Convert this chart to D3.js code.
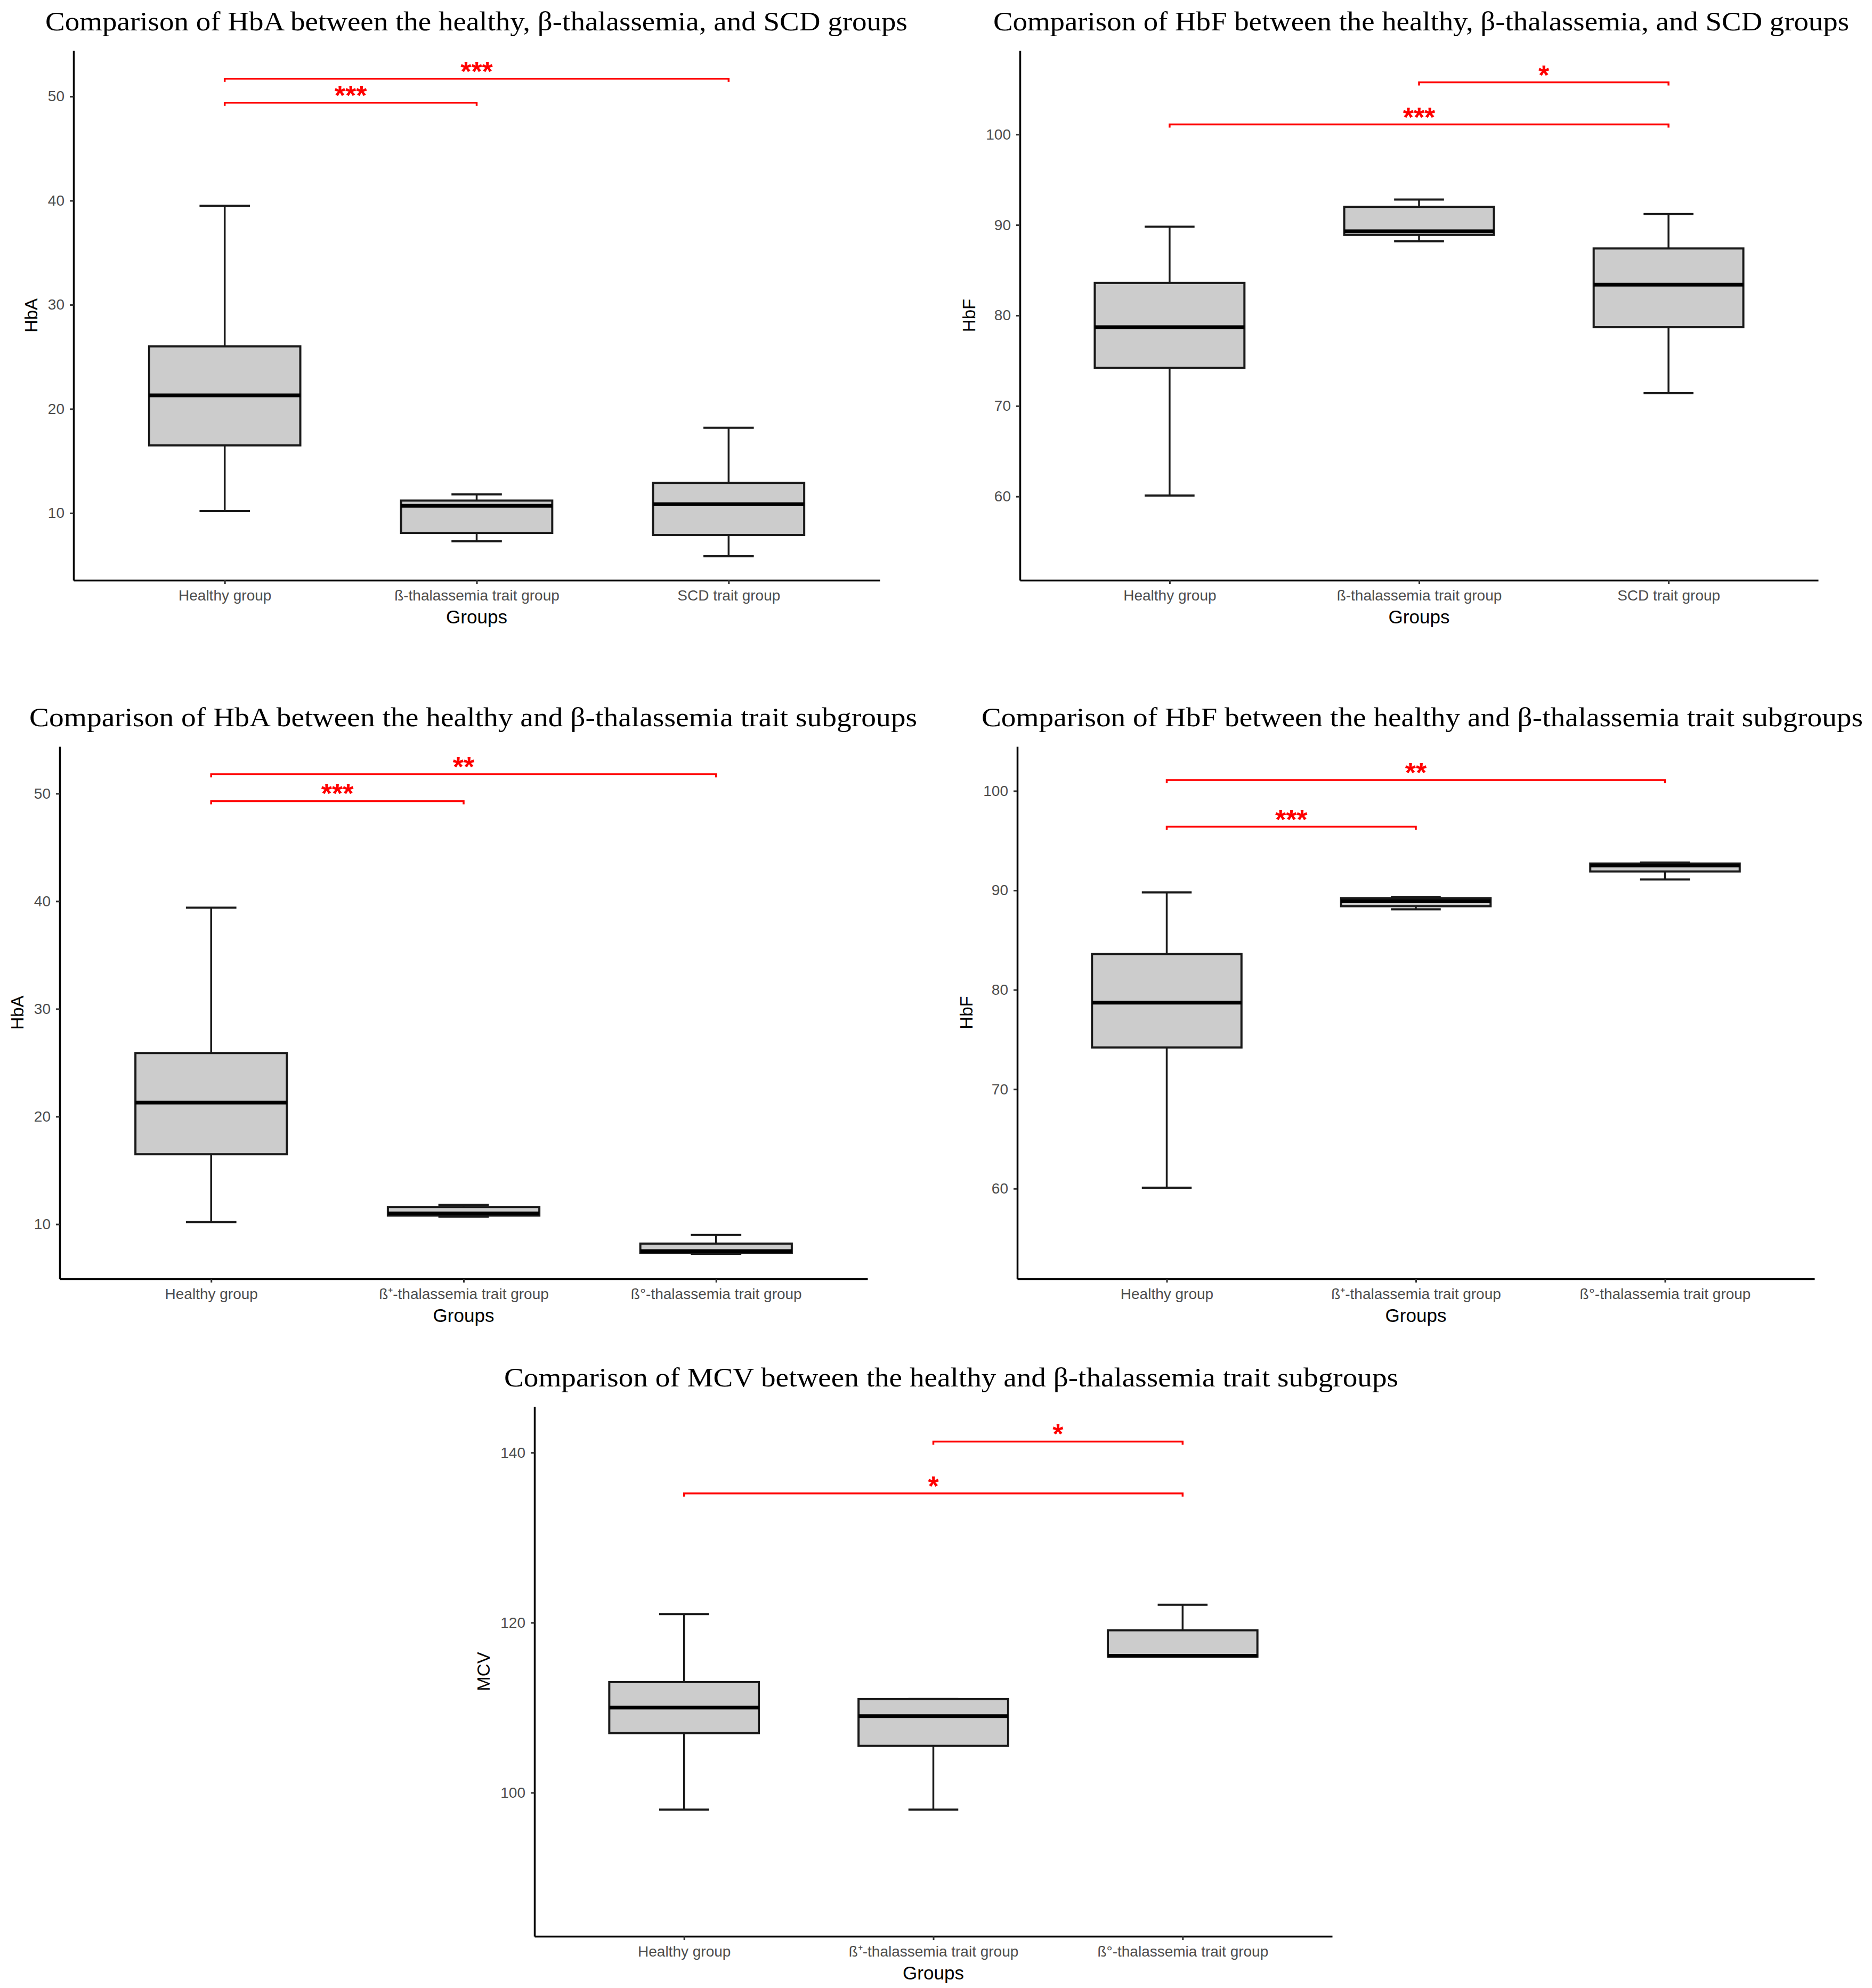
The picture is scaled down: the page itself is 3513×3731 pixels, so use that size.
<!DOCTYPE html>
<html>
<head>
<meta charset="utf-8">
<script src="https://cdn.jsdelivr.net/npm/d3@7"></script>
<style>
body { margin: 0; background: #fff; }
</style>
</head>
<body>
<div id="chart"></div>
<script>
// ---------- data ----------
var mainGroups = ["Healthy group", "ß-thalassemia trait group", "SCD trait group"];
var subGroups = ["Healthy group", "ß⁺-thalassemia trait group", "ß°-thalassemia trait group"];

// box stats per group: [lower whisker, Q1, median, Q3, upper whisker]
var hbaMain = [[10.2, 16.5, 21.3, 26.0, 39.5], [7.3, 8.1, 10.7, 11.2, 11.8], [5.85, 7.9, 10.85, 12.9, 18.2]];
var hbfMain = [[60.1, 74.2, 78.7, 83.6, 89.8], [88.2, 88.9, 89.3, 92.0, 92.8], [71.4, 78.7, 83.4, 87.4, 91.2]];
var hbaSub = [[10.2, 16.5, 21.3, 25.9, 39.4], [10.7, 10.8, 11.0, 11.6, 11.8], [7.25, 7.35, 7.5, 8.2, 9.0]];
var hbfSub = [[60.1, 74.2, 78.7, 83.6, 89.8], [88.1, 88.4, 88.9, 89.2, 89.3], [91.1, 91.9, 92.5, 92.7, 92.8]];
var mcvSub = [[98, 107, 110, 113, 121], [98, 105.5, 109, 111, 111], [116, 116, 116.1, 119.1, 122.1]];

// significance brackets: [from group, to group, height, label]
var hbaMainSig = [[0, 1, 49.4, "***"], [0, 2, 51.7, "***"]];
var hbfMainSig = [[1, 2, 105.75, "*"], [0, 2, 101.1, "***"]];
var hbaSubSig = [[0, 1, 49.3, "***"], [0, 2, 51.8, "**"]];
var hbfSubSig = [[0, 2, 101.1, "**"], [0, 1, 96.4, "***"]];
var mcvSubSig = [[1, 2, 141.3, "*"], [0, 2, 135.2, "*"]];

var hbaTicks = [10, 20, 30, 40, 50];
var hbfTicks = [60, 70, 80, 90, 100];
var mcvTicks = [100, 120, 140];

var titles = [
	"Comparison of HbA between the healthy, β-thalassemia, and SCD groups",
	"Comparison of HbF between the healthy, β-thalassemia, and SCD groups",
	"Comparison of HbA between the healthy and β-thalassemia trait subgroups",
	"Comparison of HbF between the healthy and β-thalassemia trait subgroups",
	"Comparison of MCV between the healthy and β-thalassemia trait subgroups"
];

// ---------- layout ----------
var W = 3513, H = 3731;
var SANS = "'Liberation Sans', Arial, Helvetica, sans-serif";
var SERIF = "'Palatino Linotype', 'Book Antiqua', Palatino, 'Liberation Serif', 'DejaVu Serif', serif";

var panels = [
	{title: titles[0], groups: mainGroups, stats: hbaMain, sig: hbaMainSig, ticks: hbaTicks, ylab: "HbA",
	 domain: [3.55, 54.4], l: 138, t: 95, r: 1651, b: 1089, tx: 894, ty: 57, tw: 1618},
	{title: titles[1], groups: mainGroups, stats: hbfMain, sig: hbfMainSig, ticks: hbfTicks, ylab: "HbF",
	 domain: [50.74, 109.26], l: 1914, t: 95, r: 3412, b: 1089, tx: 2667, ty: 57, tw: 1606},
	{title: titles[2], groups: subGroups, stats: hbaSub, sig: hbaSubSig, ticks: hbaTicks, ylab: "HbA",
	 domain: [4.93, 54.37], l: 112, t: 1401, r: 1628, b: 2400, tx: 888, ty: 1363, tw: 1666},
	{title: titles[3], groups: subGroups, stats: hbfSub, sig: hbfSubSig, ticks: hbfTicks, ylab: "HbF",
	 domain: [50.93, 104.47], l: 1909, t: 1401, r: 3405, b: 2400, tx: 2669, ty: 1363, tw: 1654},
	{title: titles[4], groups: subGroups, stats: mcvSub, sig: mcvSubSig, ticks: mcvTicks, ylab: "MCV",
	 domain: [83.1, 145.4], l: 1003, t: 2640, r: 2500, b: 3634, tx: 1785, ty: 2602, tw: 1678}
];

var svg = d3.select("#chart").append("svg")
	.attr("width", W)
	.attr("height", H)
	.style("background", "#fff");

panels.forEach(drawPanel);

function drawPanel(p) {
	var g = svg.append("g");

	var x = d3.scalePoint()
		.domain(p.groups)
		.range([p.l, p.r])
		.padding(0.6);
	var y = d3.scaleLinear()
		.domain(p.domain)
		.range([p.b, p.t]);

	var step = x.step();
	var boxW = step * 0.6;
	var capW = step * 0.2;

	// title
	g.append("text")
		.attr("x", p.tx)
		.attr("y", p.ty)
		.attr("text-anchor", "middle")
		.attr("font-family", SERIF)
		.attr("font-size", 50)
		.attr("textLength", p.tw)
		.attr("lengthAdjust", "spacingAndGlyphs")
		.attr("fill", "#000")
		.text(p.title);

	// boxes
	var boxes = g.selectAll(".box")
		.data(p.stats)
		.enter().append("g")
		.attr("class", "box");

	boxes.each(function(s, i) {
		var b = d3.select(this);
		var cx = x(p.groups[i]);
		// whiskers + caps
		b.append("line")
			.attr("x1", cx).attr("x2", cx)
			.attr("y1", y(s[4])).attr("y2", y(s[3]))
			.attr("stroke", "#1a1a1a").attr("stroke-width", 3.5);
		b.append("line")
			.attr("x1", cx).attr("x2", cx)
			.attr("y1", y(s[1])).attr("y2", y(s[0]))
			.attr("stroke", "#1a1a1a").attr("stroke-width", 3.5);
		[s[0], s[4]].forEach(function(v) {
			b.append("line")
				.attr("x1", cx - capW / 2).attr("x2", cx + capW / 2)
				.attr("y1", y(v)).attr("y2", y(v))
				.attr("stroke", "#1a1a1a").attr("stroke-width", 4);
		});
		b.append("rect")
			.attr("x", cx - boxW / 2)
			.attr("y", y(s[3]))
			.attr("width", boxW)
			.attr("height", Math.max(0.5, y(s[1]) - y(s[3])))
			.attr("fill", "#cccccc")
			.attr("stroke", "#1a1a1a")
			.attr("stroke-width", 4);
		b.append("line")
			.attr("x1", cx - boxW / 2).attr("x2", cx + boxW / 2)
			.attr("y1", y(s[2])).attr("y2", y(s[2]))
			.attr("stroke", "#000").attr("stroke-width", 7);
	});

	// significance brackets
	p.sig.forEach(function(d) {
		var x1 = x(p.groups[d[0]]), x2 = x(p.groups[d[1]]), yy = y(d[2]);
		g.append("path")
			.attr("d", "M" + x1 + "," + (yy + 6) + "L" + x1 + "," + yy + "L" + x2 + "," + yy + "L" + x2 + "," + (yy + 6))
			.attr("fill", "none")
			.attr("stroke", "#ff0000")
			.attr("stroke-width", 3.5);
		g.append("text")
			.attr("x", (x1 + x2) / 2)
			.attr("y", yy + 4)
			.attr("text-anchor", "middle")
			.attr("font-family", SANS)
			.attr("font-weight", "bold")
			.attr("font-size", 52)
			.attr("fill", "#ff0000")
			.text(d[3]);
	});

	// axes
	var yAxis = g.append("g")
		.attr("transform", "translate(" + p.l + ",0)")
		.call(d3.axisLeft(y).tickValues(p.ticks).tickSize(7).tickSizeOuter(0).tickPadding(10));
	var xAxis = g.append("g")
		.attr("transform", "translate(0," + p.b + ")")
		.call(d3.axisBottom(x).tickSize(7).tickSizeOuter(0).tickPadding(11));

	[xAxis, yAxis].forEach(function(ax) {
		ax.attr("font-family", SANS).attr("font-size", 28);
		ax.select(".domain").attr("stroke", "#000").attr("stroke-width", 3.5);
		ax.selectAll(".tick line").attr("stroke", "#333").attr("stroke-width", 3);
		ax.selectAll(".tick text").attr("fill", "#4d4d4d");
	});

	var maxW = 0;
	yAxis.selectAll(".tick text").each(function() {
		maxW = Math.max(maxW, this.getComputedTextLength());
	});

	// axis titles
	g.append("text")
		.attr("x", (p.l + p.r) / 2)
		.attr("y", p.b + 81)
		.attr("text-anchor", "middle")
		.attr("font-family", SANS)
		.attr("font-size", 35)
		.attr("fill", "#000")
		.text("Groups");

	var yl = p.l - 17 - maxW - 20;
	g.append("text")
		.attr("transform", "translate(" + yl + "," + ((p.t + p.b) / 2) + ") rotate(-90)")
		.attr("text-anchor", "middle")
		.attr("font-family", SANS)
		.attr("font-size", 33)
		.attr("fill", "#000")
		.text(p.ylab);
}
</script>
</body>
</html>
